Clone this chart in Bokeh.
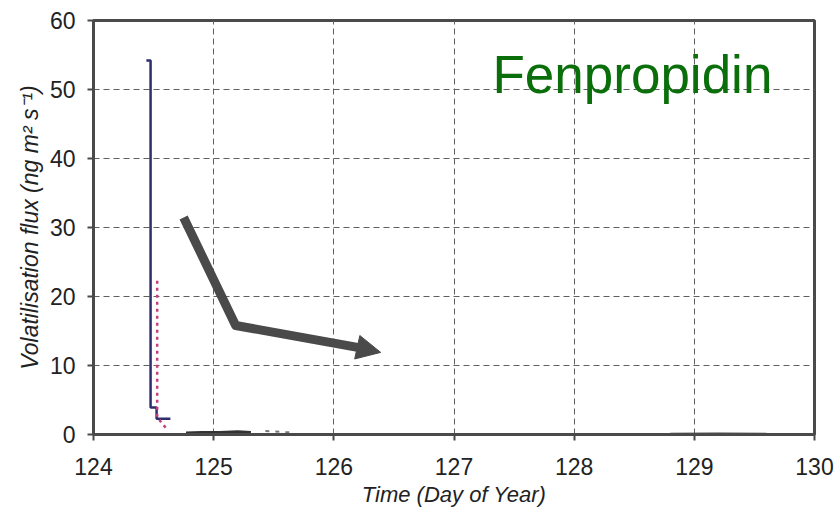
from bokeh.plotting import figure
from bokeh.models import Range1d, FixedTicker, Arrow, NormalHead, Label
from bokeh.embed import file_html
from bokeh.resources import INLINE

# ---- data ----
x_ticks = [124, 125, 126, 127, 128, 129, 130]
y_ticks = [0, 10, 20, 30, 40, 50, 60]

# measured flux (solid, step)
meas_t = [124.44, 124.475, 124.525, 124.64]
meas_f = [54.2, 3.9, 2.3, 2.3]
# low flux later measurements (solid)
low_t = [124.77, 124.9, 125.05, 125.2, 125.31]
low_f = [0.2, 0.3, 0.3, 0.4, 0.3]
late_t = [128.8, 129.2, 129.6]
late_f = [0.1, 0.15, 0.1]
# modelled flux (dotted)
mod_t = [124.53, 124.53, 124.6]
mod_f = [22.3, 2.5, 1.0]
# modelled tail (dashed)
tail_t = [125.43, 125.64]
tail_f = [0.5, 0.3]

# annotation arrow path
arrow_t = [124.75, 125.183, 126.22]
arrow_f = [31.45, 15.8, 12.55]
arrow_tip = (126.39, 11.9)

title_text = "Fenpropidin"

p = figure(width=840, height=509, output_backend="svg", toolbar_location=None,
           x_range=Range1d(124, 130), y_range=Range1d(0, 60),
           min_border_left=93, min_border_right=26, min_border_top=20,
           min_border_bottom=75)
p.background_fill_color = "white"
p.border_fill_color = "white"
p.outline_line_color = "#4a4a4a"
p.outline_line_width = 3

font = "Liberation Sans"
for ax in (p.xaxis[0], p.yaxis[0]):
    ax.axis_line_color = "#4a4a4a"
    ax.axis_line_width = 3
    ax.major_tick_line_color = "#4a4a4a"
    ax.major_tick_line_width = 2
    ax.major_tick_in = 0
    ax.major_tick_out = 6
    ax.minor_tick_line_color = None
    ax.major_label_text_font = font
    ax.major_label_text_font_size = "23px"
    ax.major_label_text_color = "#222222"
    ax.axis_label_text_font = font
    ax.axis_label_text_font_style = "italic"
    ax.axis_label_text_color = "#222222"

p.xaxis.ticker = FixedTicker(ticks=x_ticks)
p.yaxis.ticker = FixedTicker(ticks=y_ticks)
p.xaxis.axis_label = "Time (Day of Year)"
p.yaxis.axis_label = "Volatilisation flux (ng m\u00b2 s\u207b\u00b9)"
p.xaxis.axis_label_text_font_size = "22px"
p.yaxis.axis_label_text_font_size = "23px"
p.xaxis.major_label_standoff = 17
p.yaxis.major_label_standoff = 12
p.xaxis.axis_label_standoff = 4
p.yaxis.axis_label_standoff = 4

for g in (p.xgrid[0], p.ygrid[0]):
    g.grid_line_color = "#606060"
    g.grid_line_dash = "6 4"
    g.grid_line_width = 1

p.step(meas_t, meas_f, mode="after", line_color="#2e2e6e", line_width=2.5)
p.line(mod_t, mod_f, line_color="#c0407a", line_width=2.5, line_dash="3 4")
p.line(low_t, low_f, line_color="#333333", line_width=3)
p.line(late_t, late_f, line_color="#444444", line_width=2)
p.line(tail_t, tail_f, line_color="#777777", line_width=2, line_dash="4 6")

p.line(arrow_t, arrow_f, line_color="#4a4a4a", line_width=9, line_join="round")
p.add_layout(Arrow(end=NormalHead(size=24, fill_color="#4a4a4a", line_color="#4a4a4a"),
                   x_start=arrow_t[-1], y_start=arrow_f[-1],
                   x_end=arrow_tip[0], y_end=arrow_tip[1],
                   line_color="#4a4a4a", line_width=9))

p.add_layout(Label(x=127.32, y=52.2, text=title_text, text_font=font,
                   text_font_size="53px", text_color="#0a6e0a",
                   text_baseline="alphabetic"))

open("out.html", "w").write(file_html(p, INLINE))
